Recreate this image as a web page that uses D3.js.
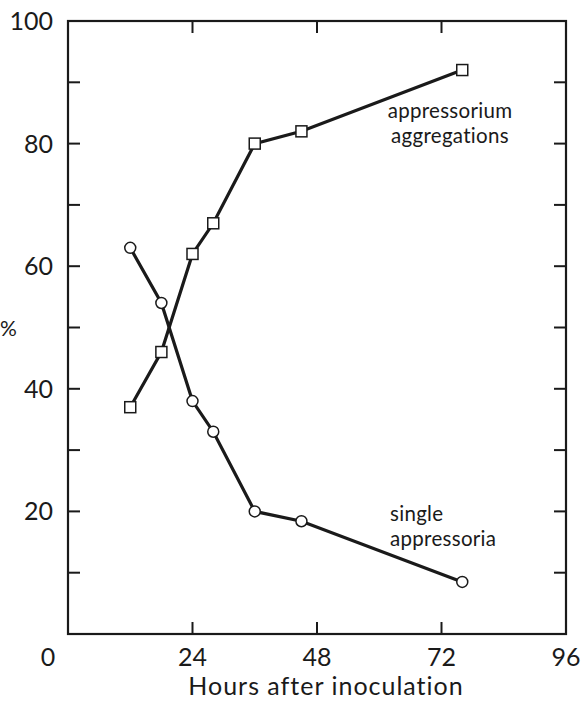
<!DOCTYPE html>
<html>
<head>
<meta charset="utf-8">
<script src="https://cdn.jsdelivr.net/npm/d3@7"></script>
<style>
  body { margin: 0; background: #fff; }
  svg text { font-family: Lato, "DejaVu Sans", sans-serif; fill: #1a1a1a; }
</style>
</head>
<body>
<div id="chart"></div>
<script>
// hours after inoculation and percentages
const hours = [12, 18, 24, 28, 36, 45, 76];
const aggregations = [37, 46, 62, 67, 80, 82, 92];
const single = [63, 54, 38, 33, 20, 18.4, 8.5];
const xTicks = [0, 24, 48, 72, 96];
const yTicks = [0, 20, 40, 60, 80, 100];
const yMinor = [10, 30, 50, 70, 90];

const width = 582, height = 701;
const margin = { top: 21, right: 16, bottom: 67, left: 68 };

const svg = d3.select("#chart").append("svg")
    .attr("width", width)
    .attr("height", height);

const x = d3.scaleLinear().domain([0, 96]).range([margin.left, width - margin.right]);
const y = d3.scaleLinear().domain([0, 100]).range([height - margin.bottom, margin.top]);

const ink = "#1a1a1a";

// frame
svg.append("rect")
    .attr("x", x(0)).attr("y", y(100))
    .attr("width", x(96) - x(0)).attr("height", y(0) - y(100))
    .attr("fill", "none").attr("stroke", ink).attr("stroke-width", 2.2);

// inward ticks on all four sides
const tickLen = 12;
const innerX = [24, 48, 72];
const allY = yTicks.slice(1, -1).concat(yMinor);

svg.append("g").selectAll("line.xb").data(innerX).enter().append("line")
    .attr("x1", d => x(d)).attr("x2", d => x(d))
    .attr("y1", y(0)).attr("y2", y(0) - tickLen)
    .attr("stroke", ink).attr("stroke-width", 2);
svg.append("g").selectAll("line.xt").data(innerX).enter().append("line")
    .attr("x1", d => x(d)).attr("x2", d => x(d))
    .attr("y1", y(100)).attr("y2", y(100) + tickLen)
    .attr("stroke", ink).attr("stroke-width", 2);
svg.append("g").selectAll("line.yl").data(allY).enter().append("line")
    .attr("x1", x(0)).attr("x2", x(0) + tickLen)
    .attr("y1", d => y(d)).attr("y2", d => y(d))
    .attr("stroke", ink).attr("stroke-width", 2);
svg.append("g").selectAll("line.yr").data(allY).enter().append("line")
    .attr("x1", x(96)).attr("x2", x(96) - tickLen)
    .attr("y1", d => y(d)).attr("y2", d => y(d))
    .attr("stroke", ink).attr("stroke-width", 2);

// tick labels
svg.append("g").selectAll("text").data(yTicks.slice(1)).enter().append("text")
    .attr("x", 53).attr("y", d => y(d))
    .attr("dy", "0.36em")
    .attr("text-anchor", "end")
    .attr("font-size", 25)
    .text(d => d);

svg.append("g").selectAll("text").data(xTicks).enter().append("text")
    .attr("x", d => d === 0 ? 48 : x(d)).attr("y", 666)
    .attr("text-anchor", "middle")
    .attr("font-size", 25)
    .text(d => d);

svg.append("text")
    .attr("x", 0).attr("y", 336)
    .attr("font-size", 21)
    .text("%");

svg.append("text")
    .attr("x", 326).attr("y", 695)
    .attr("text-anchor", "middle")
    .attr("font-size", 25)
    .attr("letter-spacing", 1)
    .text("Hours after inoculation");

// series
const line = d3.line()
    .x(d => x(d[0]))
    .y(d => y(d[1]));

const aggData = hours.map((h, i) => [h, aggregations[i]]);
const singleData = hours.map((h, i) => [h, single[i]]);

[aggData, singleData].forEach(data => {
    svg.append("path")
        .datum(data)
        .attr("d", line)
        .attr("fill", "none")
        .attr("stroke", ink)
        .attr("stroke-width", 3.2);
});

const sq = 11;
svg.append("g").selectAll("rect").data(aggData).enter().append("rect")
    .attr("x", d => x(d[0]) - sq / 2).attr("y", d => y(d[1]) - sq / 2)
    .attr("width", sq).attr("height", sq)
    .attr("fill", "#fff").attr("stroke", ink).attr("stroke-width", 1.5);

svg.append("g").selectAll("circle").data(singleData).enter().append("circle")
    .attr("cx", d => x(d[0])).attr("cy", d => y(d[1]))
    .attr("r", 5.5)
    .attr("fill", "#fff").attr("stroke", ink).attr("stroke-width", 1.5);

// series labels
const labelSize = 20.5, labelGap = 24.6;
const aggLabel = svg.append("text")
    .attr("x", 450).attr("y", 118)
    .attr("text-anchor", "middle")
    .attr("font-size", labelSize)
    .attr("letter-spacing", 0.3);
aggLabel.append("tspan").attr("x", 450).text("appressorium");
aggLabel.append("tspan").attr("x", 450).attr("dy", labelGap).text("aggregations");

const singleLabel = svg.append("text")
    .attr("x", 390).attr("y", 521)
    .attr("font-size", labelSize)
    .attr("letter-spacing", 0.3);
singleLabel.append("tspan").attr("x", 390).text("single");
singleLabel.append("tspan").attr("x", 390).attr("dy", labelGap).text("appressoria");
</script>
</body>
</html>
